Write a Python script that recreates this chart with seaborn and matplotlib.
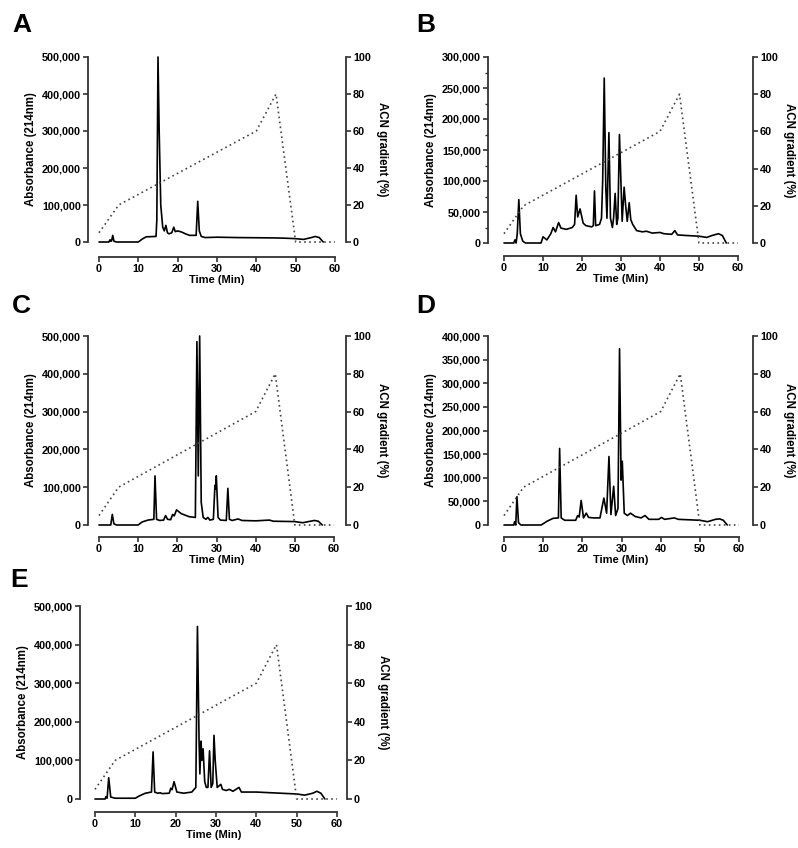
import numpy as np
import pandas as pd
import matplotlib
matplotlib.use('Agg')
import matplotlib.pyplot as plt
import seaborn as sns
from matplotlib.ticker import FuncFormatter, MultipleLocator

sns.set_theme(style='ticks')
plt.rcParams['font.family'] = ['Liberation Sans', 'DejaVu Sans']
plt.rcParams['font.weight'] = 'bold'
plt.rcParams['axes.labelweight'] = 'bold'
plt.rcParams['axes.labelcolor'] = 'black'
plt.rcParams['text.color'] = 'black'

# ACN gradient (same for every run)
grad_time = [0, 5, 40, 45, 50, 60]
grad_pct = [5, 20, 60, 80, 0, 0]

# chromatogram A
a_time = [0, 2.5, 2.8, 3.0, 3.2, 3.5, 3.8, 4.5, 10, 11, 12, 14.5, 14.7, 15.0, 15.3, 15.7, 16.2, 16.6,
          17.0, 17.4, 17.8, 18.5, 19.0, 19.4, 20.0, 21, 22, 23, 24.7, 25.1, 25.5, 26.0, 27, 30, 35,
          40, 45, 48, 50, 52, 54, 55, 56, 56.5, 57]
a_abs = [0, 0, 6000, 2000, 3000, 18000, 2000, 0, 0, 8000, 14000, 15000, 60000, 500000, 300000, 100000,
         40000, 30000, 45000, 25000, 22000, 25000, 40000, 28000, 30000, 27000, 22000, 18000, 18000,
         110000, 30000, 15000, 12000, 13000, 12000, 11500, 11000, 10000, 9000, 7000, 12000, 15000,
         12000, 6000, 0]

# chromatogram B
b_time = [0, 2.5, 2.8, 3.1, 3.4, 3.8, 4.2, 4.8, 5.5, 9.5, 10, 11, 12, 12.6, 13.2, 14.0, 14.6, 16,
          17.5, 18.1, 18.5, 18.9, 19.5, 20.3, 21, 22.5, 22.9, 23.2, 23.5, 24.5, 25.0, 25.3, 25.7,
          26.1, 26.4, 26.9, 27.3, 27.8, 28.1, 28.5, 28.9, 29.2, 29.6, 29.9, 30.3, 30.8, 31.2, 31.6,
          32.1, 32.5, 33.0, 34, 35.5, 36.5, 38, 40, 41, 43.0, 43.8, 44.5, 47, 50, 52, 53.3, 55, 56, 57]
b_abs = [0, 0, 5000, 0, 15000, 70000, 15000, 3000, 0, 0, 10000, 5000, 15000, 25000, 18000, 33000,
         24000, 22000, 25000, 30000, 77000, 42000, 55000, 32000, 28000, 26000, 28000, 84000, 28000,
         30000, 40000, 100000, 266000, 90000, 40000, 178000, 40000, 25000, 40000, 80000, 30000,
         40000, 175000, 115000, 35000, 90000, 60000, 35000, 65000, 38000, 30000, 20000, 18000,
         19000, 16000, 17000, 15000, 14000, 20000, 13000, 12000, 11000, 9000, 12000, 15000, 12000, 0]

# chromatogram C
c_time = [0, 3.0, 3.4, 3.8, 4.5, 10, 11, 12.5, 14.0, 14.3, 14.7, 15.5, 16.5, 17.0, 17.5, 18.3, 18.8,
          19.2, 19.8, 21, 23, 24.6, 25.0, 25.35, 25.7, 26.1, 26.6, 27.3, 27.8, 28.3, 29.2, 29.6,
          29.75, 29.95, 30.4, 31, 32.5, 32.9, 33.3, 34, 35.5, 36.5, 40, 43.5, 44.5, 50, 52, 54, 55,
          56, 57]
c_abs = [0, 0, 28000, 3000, 0, 0, 8000, 13000, 15000, 130000, 15000, 12000, 13000, 25000, 15000,
         14000, 28000, 24000, 40000, 30000, 22000, 20000, 485000, 130000, 500000, 60000, 20000,
         15000, 20000, 13000, 15000, 105000, 95000, 130000, 20000, 13000, 12000, 97000, 15000,
         12000, 16000, 12000, 11000, 13000, 10000, 9000, 6000, 10000, 12000, 10000, 0]

# chromatogram D
d_time = [0, 2.5, 2.7, 3.0, 3.3, 3.7, 4.3, 9.5, 11, 12.5, 13.9, 14.2, 14.6, 15.5, 18.3, 18.8, 19.2,
          19.7, 20.3, 21.0, 21.6, 23, 24.5, 25.5, 26.2, 26.8, 27.3, 28.0, 28.5, 29.1, 29.5, 29.9,
          30.2, 30.7, 31.5, 32.3, 33.5, 35, 36, 37, 39.5, 40.2, 41, 43.5, 44.5, 50, 52, 54, 55, 56, 57]
d_abs = [0, 0, 7000, 0, 60000, 5000, 0, 0, 8000, 14000, 15000, 162000, 15000, 10000, 10000, 20000,
         17000, 52000, 15000, 25000, 16000, 15000, 15000, 57000, 25000, 145000, 22000, 82000, 20000,
         35000, 373000, 95000, 135000, 25000, 20000, 25000, 18000, 15000, 20000, 12000, 12000,
         16000, 12000, 15000, 12000, 10000, 7000, 12000, 13000, 10000, 0]

# chromatogram E
e_time = [0, 2.5, 2.7, 3.0, 3.4, 3.9, 5, 10, 11, 12.5, 14.0, 14.4, 14.8, 15.5, 16.2, 16.6, 18.4,
          18.8, 19.1, 19.6, 20.3, 22, 24, 25.0, 25.4, 25.8, 26.0, 26.3, 26.5, 26.8, 27.2, 27.6, 28.0,
          28.4, 28.8, 29.2, 29.5, 29.8, 30.3, 31.2, 31.6, 32.5, 33.3, 34.2, 35.7, 36.3, 40, 44, 50,
          52, 54, 55, 56, 57]
e_abs = [0, 0, 6000, 2000, 55000, 5000, 2000, 2000, 8000, 15000, 18000, 122000, 18000, 15000, 16000,
         14000, 15000, 28000, 24000, 45000, 18000, 15000, 18000, 30000, 447000, 150000, 65000,
         150000, 100000, 130000, 45000, 30000, 30000, 125000, 30000, 40000, 165000, 100000, 30000,
         38000, 25000, 22000, 25000, 20000, 30000, 18000, 18000, 16000, 13000, 10000, 15000, 20000,
         15000, 0]

# layout in pixels: box = (left, top, right, zero line), x0/x60 = pixel of 0 and 60 min
panels = [
    dict(letter='A', t=a_time, y=a_abs, ymax=500000, step=100000, minor=None,
         box=(88, 57, 346, 242), x0=99, x60=335, off=15, lpos=(12, 13)),
    dict(letter='B', t=b_time, y=b_abs, ymax=300000, step=50000, minor=25000,
         box=(488, 57, 753, 243), x0=504, x60=738, off=13, lpos=(416, 13)),
    dict(letter='C', t=c_time, y=c_abs, ymax=500000, step=100000, minor=None,
         box=(88, 336, 346, 525), x0=99, x60=334, off=12, lpos=(12, 294)),
    dict(letter='D', t=d_time, y=d_abs, ymax=400000, step=50000, minor=None,
         box=(488, 336, 753, 525), x0=504, x60=739, off=12, lpos=(416, 294)),
    dict(letter='E', t=e_time, y=e_abs, ymax=500000, step=100000, minor=None,
         box=(80, 606, 347, 799), x0=95, x60=337, off=13, lpos=(10, 568)),
]

W, H = 798, 848
fig = plt.figure(figsize=(W / 100, H / 100), dpi=100)
spine_col = '#333333'

for p in panels:
    l, t, r, z = p['box']
    ax = fig.add_axes([l / W, 1 - z / H, (r - l) / W, (z - t) / H])
    df = pd.DataFrame({'Time': p['t'], 'Abs': p['y']})
    sns.lineplot(data=df, x='Time', y='Abs', ax=ax, color='black', lw=1.2,
                 estimator=None, sort=False)
    sc = (p['x60'] - p['x0']) / 60
    ax.set_xlim(-(p['x0'] - l) / sc, 60 + (r - p['x60']) / sc)
    ax.set_ylim(0, p['ymax'])
    ax.xaxis.set_major_locator(MultipleLocator(10))
    ax.yaxis.set_major_locator(MultipleLocator(p['step']))
    if p['minor']:
        ax.yaxis.set_minor_locator(MultipleLocator(p['minor']))
    ax.yaxis.set_major_formatter(FuncFormatter(lambda v, pos: f'{v:,.0f}'))
    for s in ['top', 'right']:
        ax.spines[s].set_visible(False)
    ax.spines['left'].set_bounds(0, p['ymax'])
    ax.spines['bottom'].set_bounds(0, 60)
    ax.spines['bottom'].set_position(('outward', p['off'] * 0.72))
    for s in ['left', 'bottom']:
        ax.spines[s].set_color(spine_col)
        ax.spines[s].set_linewidth(1.3)
    ax.tick_params(axis='both', which='major', length=3.5, width=1.2, color=spine_col,
                   labelsize=7.8, pad=1.5, labelcolor='black')
    ax.tick_params(axis='y', which='minor', length=2, width=1.0, color=spine_col)
    ax.set_xlabel('Time (Min)', fontsize=8, fontweight='bold', labelpad=1)
    ax.set_ylabel('Absorbance (214nm)', fontsize=8.3, fontweight='bold', labelpad=3.5)
    for ln in ax.lines:
        ln.set_clip_on(False)

    ax2 = ax.twinx()
    gdf = pd.DataFrame({'Time': grad_time, 'Pct': grad_pct})
    sns.lineplot(data=gdf, x='Time', y='Pct', ax=ax2, color='#444444', lw=1.2,
                 estimator=None, sort=False)
    ax2.lines[0].set_linestyle((0, (1, 2.0)))
    ax2.lines[0].set_clip_on(False)
    ax2.set_ylim(0, 100)
    ax2.yaxis.set_major_locator(MultipleLocator(20))
    for s in ['top', 'left', 'bottom']:
        ax2.spines[s].set_visible(False)
    ax2.spines['right'].set_bounds(0, 100)
    ax2.spines['right'].set_color(spine_col)
    ax2.spines['right'].set_linewidth(1.3)
    ax2.tick_params(axis='y', length=3.5, width=1.2, color=spine_col, labelsize=7.8, pad=1.5,
                    labelcolor='black')
    ax2.set_ylabel('ACN gradient (%)', fontsize=8.3, fontweight='bold', rotation=270,
                   va='bottom', labelpad=4)

    lx, ly = p['lpos']
    fig.text(lx / W, 1 - ly / H, p['letter'], fontsize=19, fontweight='bold', va='top', ha='left')

fig.savefig('out.png', dpi=100)
